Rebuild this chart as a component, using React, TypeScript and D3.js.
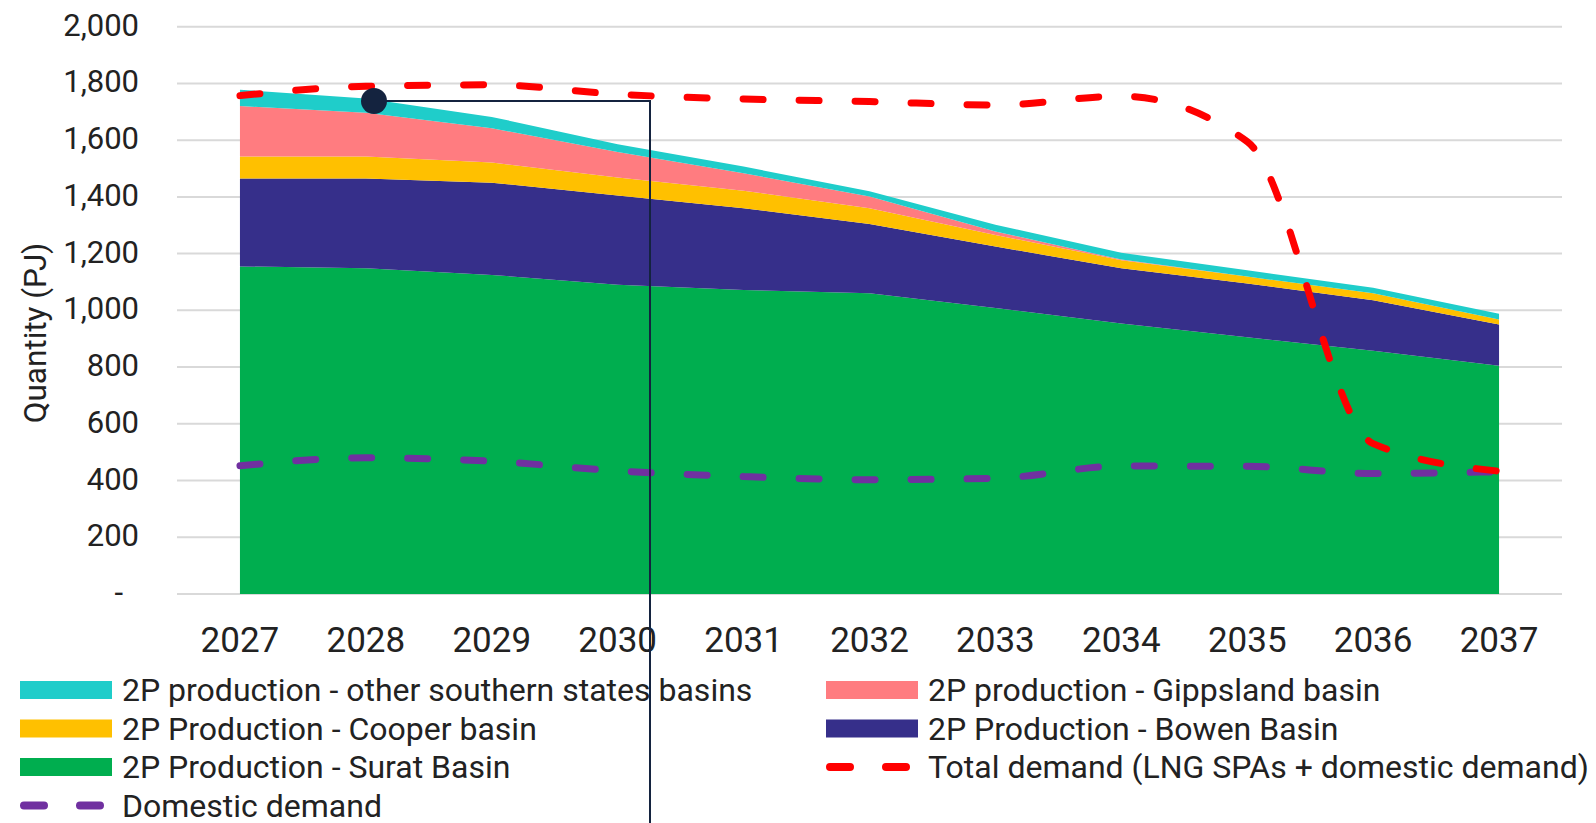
import { useEffect, useRef } from "react"
import * as d3 from "d3"

// categories and values (PJ)
const years = ["2027", "2028", "2029", "2030", "2031", "2032", "2033", "2034", "2035", "2036", "2037"]
const surat = [1155, 1148, 1125, 1090, 1072, 1060, 1008, 954, 905, 858, 805]
const bowen = [310, 317, 325, 315, 288, 244, 217, 194, 190, 178, 145]
const cooper = [77, 77, 71, 63, 62, 56, 41, 29, 24, 24, 18]
const gippsland = [178, 155, 121, 90, 61, 41, 12, 2, 0, 0, 0]
const otherSouthern = [58, 50, 40, 28, 24, 19, 24, 24, 22, 20, 20]
const totalDemand = [1757, 1790, 1795, 1762, 1745, 1736, 1724, 1755, 1595, 530, 433]
const domesticDemand = [452, 480, 468, 434, 414, 403, 408, 451, 450, 425, 431]
const yTicks = [0, 200, 400, 600, 800, 1000, 1200, 1400, 1600, 1800, 2000]

const stackKeys = ["surat", "bowen", "cooper", "gippsland", "other"]
const stackColors: Record<string, string> = {
  surat: "#00ae4f",
  bowen: "#362f8a",
  cooper: "#ffc000",
  gippsland: "#ff7c80",
  other: "#1fcdca",
}

export default function App() {
  const ref = useRef<SVGSVGElement>(null)

  useEffect(() => {
    const svg = d3.select(ref.current)
    svg.selectAll("*").remove()

    const x = d3.scalePoint().domain(years).range([177, 1562]).padding(0.5)
    const y = d3.scaleLinear().domain([0, 2000]).range([594, 26.7])

    // gridlines
    svg.append("g")
      .selectAll("line")
      .data(yTicks)
      .join("line")
      .attr("x1", 177)
      .attr("x2", 1562)
      .attr("y1", d => y(d))
      .attr("y2", d => y(d))
      .attr("stroke", "#d9d9d9")
      .attr("stroke-width", 2)

    // y tick labels
    svg.append("g")
      .selectAll("text")
      .data(yTicks)
      .join("text")
      .attr("x", d => (d === 0 ? 123 : 139))
      .attr("y", d => y(d) + 9)
      .attr("text-anchor", "end")
      .style("font-family", "Roboto")
      .style("font-size", "31px")
      .style("fill", "#222")
      .text(d => (d === 0 ? "-" : d3.format(",")(d)))

    // stacked areas
    const rows = years.map((yr, i) => ({
      year: yr,
      surat: surat[i],
      bowen: bowen[i],
      cooper: cooper[i],
      gippsland: gippsland[i],
      other: otherSouthern[i],
    }))
    const stacked = d3.stack<any>().keys(stackKeys)(rows)
    const area = d3.area<any>()
      .x(d => x(d.data.year) as number)
      .y0(d => y(d[0]))
      .y1(d => y(d[1]))

    svg.append("g")
      .selectAll("path")
      .data(stacked)
      .join("path")
      .attr("d", d => area(d as any))
      .attr("fill", d => stackColors[d.key])

    // demand lines
    const line = d3.line<number>()
      .x((_, i) => x(years[i]) as number)
      .y(d => y(d))
      .curve(d3.curveMonotoneX)

    svg.append("path")
      .datum(domesticDemand)
      .attr("d", line)
      .attr("fill", "none")
      .attr("stroke", "#7030a0")
      .attr("stroke-width", 7)
      .attr("stroke-linecap", "round")
      .attr("stroke-dasharray", "20 36")

    svg.append("path")
      .datum(totalDemand)
      .attr("d", line)
      .attr("fill", "none")
      .attr("stroke", "#ff0000")
      .attr("stroke-width", 7)
      .attr("stroke-linecap", "round")
      .attr("stroke-dasharray", "20 36")

    // x labels
    svg.append("g")
      .selectAll("text")
      .data(years)
      .join("text")
      .attr("x", d => x(d) as number)
      .attr("y", 652)
      .attr("text-anchor", "middle")
      .style("font-family", "Roboto")
      .style("font-size", "35px")
      .style("fill", "#222")
      .text(d => d)

    // y axis title
    svg.append("text")
      .attr("transform", "translate(46,333) rotate(-90)")
      .attr("text-anchor", "middle")
      .style("font-family", "Roboto")
      .style("font-size", "31.5px")
      .style("fill", "#222")
      .text("Quantity (PJ)")

    // legend
    const legend = [
      { label: "2P production - other southern states basins", color: stackColors.other, kind: "box" },
      { label: "2P production - Gippsland basin", color: stackColors.gippsland, kind: "box" },
      { label: "2P Production - Cooper basin", color: stackColors.cooper, kind: "box" },
      { label: "2P Production - Bowen Basin", color: stackColors.bowen, kind: "box" },
      { label: "2P Production - Surat Basin", color: stackColors.surat, kind: "box" },
      { label: "Total demand (LNG SPAs + domestic demand)", color: "#ff0000", kind: "dash" },
      { label: "Domestic demand", color: "#7030a0", kind: "dash" },
    ]
    const lg = svg.append("g")
    legend.forEach((item, i) => {
      const cx = i % 2 === 0 ? 20 : 826
      const cy = 690 + Math.floor(i / 2) * 38.5
      if (item.kind === "box") {
        lg.append("rect")
          .attr("x", cx)
          .attr("y", cy - 9)
          .attr("width", 92)
          .attr("height", 18)
          .attr("fill", item.color)
      } else {
        lg.append("line")
          .attr("x1", cx + 4)
          .attr("x2", cx + 81)
          .attr("y1", cy)
          .attr("y2", cy)
          .attr("stroke", item.color)
          .attr("stroke-width", 8)
          .attr("stroke-linecap", "round")
          .attr("stroke-dasharray", "20 36")
      }
      lg.append("text")
        .attr("x", cx + 102)
        .attr("y", cy + 11)
        .style("font-family", "Roboto")
        .style("font-size", "32px")
        .style("fill", "#222")
        .text(item.label)
    })

    // callout marker
    svg.append("path")
      .attr("d", "M374,101H650V823")
      .attr("fill", "none")
      .attr("stroke", "#14233f")
      .attr("stroke-width", 2)
    svg.append("circle")
      .attr("cx", 374)
      .attr("cy", 101)
      .attr("r", 13)
      .attr("fill", "#14233f")
  }, [])

  return (
    <svg
      ref={ref}
      width={1596}
      height={823}
      style={{ position: "absolute", left: 0, top: 0, background: "#fff" }}
    />
  )
}
